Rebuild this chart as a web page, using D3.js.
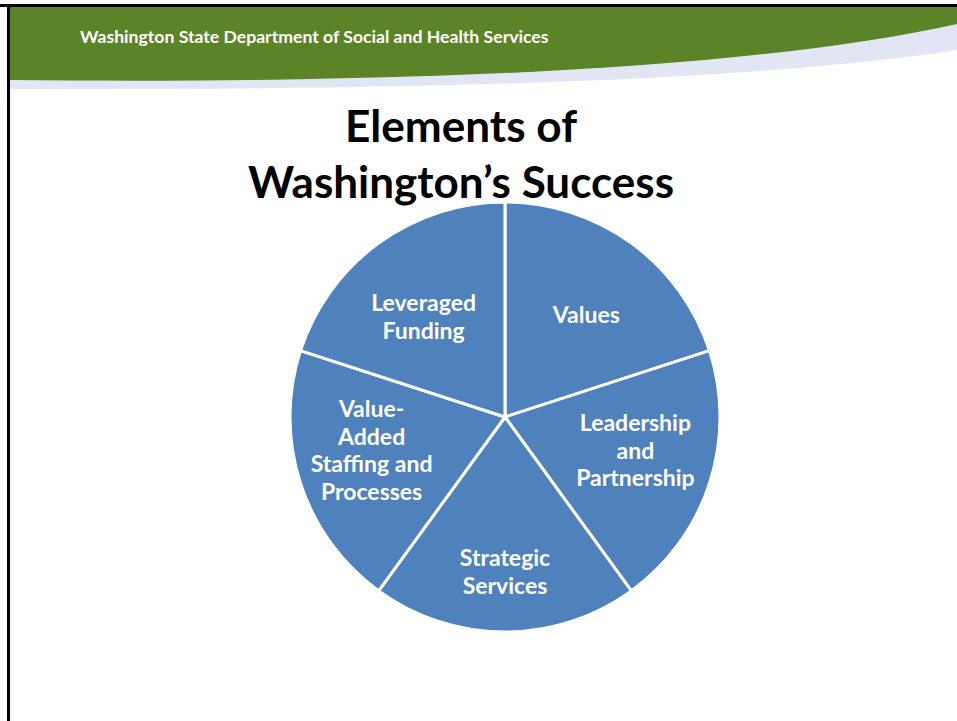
<!DOCTYPE html>
<html>
<head>
<meta charset="utf-8">
<script src="https://cdn.jsdelivr.net/npm/d3@7"></script>
<style>
  body { margin: 0; background: #ffffff; }
  svg { display: block; }
</style>
</head>
<body>
<div id="chart"></div>
<script>
// chart data
var headerText = "Washington State Department of Social and Health Services";
var titleLines = ["Elements of", "Washington\u2019s Success"];
var categories = [
    "Values",
    "Leadership and Partnership",
    "Strategic Services",
    "Value-Added Staffing and Processes",
    "Leveraged Funding"
];
// label line breaks as shown on the slide
var labelLines = [
    ["Values"],
    ["Leadership", "and", "Partnership"],
    ["Strategic", "Services"],
    ["Value-", "Added", "Staffing and", "Processes"],
    ["Leveraged", "Funding"]
];
var values = [20, 20, 20, 20, 20];

var width = 957,
    height = 721;

var svg = d3.select("#chart").append("svg")
    .attr("width", width)
    .attr("height", height);

var fontFamily = "Lato, 'Open Sans', 'DejaVu Sans', sans-serif";

// fit a text element to a target width by adjusting font size
function fitWidth(sel, target) {
    var size = parseFloat(sel.style("font-size"));
    var w = sel.node().getComputedTextLength();
    if (w > 0) sel.style("font-size", (size * target / w) + "px");
}

// header band
var header = svg.append("g").attr("class", "header");

header.append("path")
    .attr("d", "M9,7 L957,7 L957,50 C750,82 400,90 9,89 Z")
    .attr("fill", "#e1e5f4");

header.append("path")
    .attr("d", "M9,7 L957,7 L957,24 C750,70 400,84 9,80 Z")
    .attr("fill", "#5b8428");

// slide frame (top and left edges)
svg.append("rect")
    .attr("x", 0).attr("y", 4)
    .attr("width", width).attr("height", 3)
    .attr("fill", "#000");
svg.append("rect")
    .attr("x", 7).attr("y", 4)
    .attr("width", 3).attr("height", height)
    .attr("fill", "#000");

var headerLabel = header.append("text")
    .attr("x", 80)
    .attr("y", 43)
    .style("font-family", fontFamily)
    .style("font-size", "17px")
    .style("font-weight", "700")
    .style("fill", "#ffffff")
    .text(headerText);
fitWidth(headerLabel, 469);

// title
var title = svg.append("g").attr("class", "title");
var titleWidths = [232, 426];
titleLines.forEach(function(t, i) {
    var el = title.append("text")
        .attr("x", 461)
        .attr("y", 142 + i * 56)
        .attr("text-anchor", "middle")
        .style("font-family", fontFamily)
        .style("font-size", "40px")
        .style("font-weight", "700")
        .style("fill", "#000")
        .text(t);
    fitWidth(el, titleWidths[i]);
});

// pie
var cx = 505, cy = 417, radius = 215;

var pie = d3.pie()
    .sort(null)
    .value(function(d) { return d; });

var arc = d3.arc()
    .innerRadius(0)
    .outerRadius(radius);

// labels sit around 63% of the radius, then get nudged like the slide
var labelArc = d3.arc()
    .innerRadius(radius * 0.628)
    .outerRadius(radius * 0.628);

var g = svg.append("g")
    .attr("transform", "translate(" + cx + "," + cy + ")");

var slices = g.selectAll(".slice")
    .data(pie(values))
    .enter().append("g")
    .attr("class", "slice");

slices.append("path")
    .attr("d", arc)
    .attr("fill", "#4f81bd")
    .attr("stroke", "#ffffff")
    .attr("stroke-width", 3)
    .attr("stroke-linejoin", "round");

var labelNudge = [[2, 7], [2, -8], [0, 20], [-5, -8], [-2, 9]];
var lineHeight = 27.5;

slices.each(function(d, i) {
    var c = labelArc.centroid(d);
    var x = c[0] + labelNudge[i][0];
    var y = c[1] + labelNudge[i][1];
    var lines = labelLines[i];
    var top = y - (lines.length - 1) * lineHeight / 2 + 8;

    var t = d3.select(this).append("text")
        .attr("text-anchor", "middle")
        .style("font-family", fontFamily)
        .style("font-size", "23px")
        .style("font-weight", "700")
        .style("fill", "#ffffff");

    t.selectAll("tspan")
        .data(lines)
        .enter().append("tspan")
        .attr("x", x)
        .attr("y", function(l, j) { return top + j * lineHeight; })
        .text(function(l) { return l; });
});
</script>
</body>
</html>
